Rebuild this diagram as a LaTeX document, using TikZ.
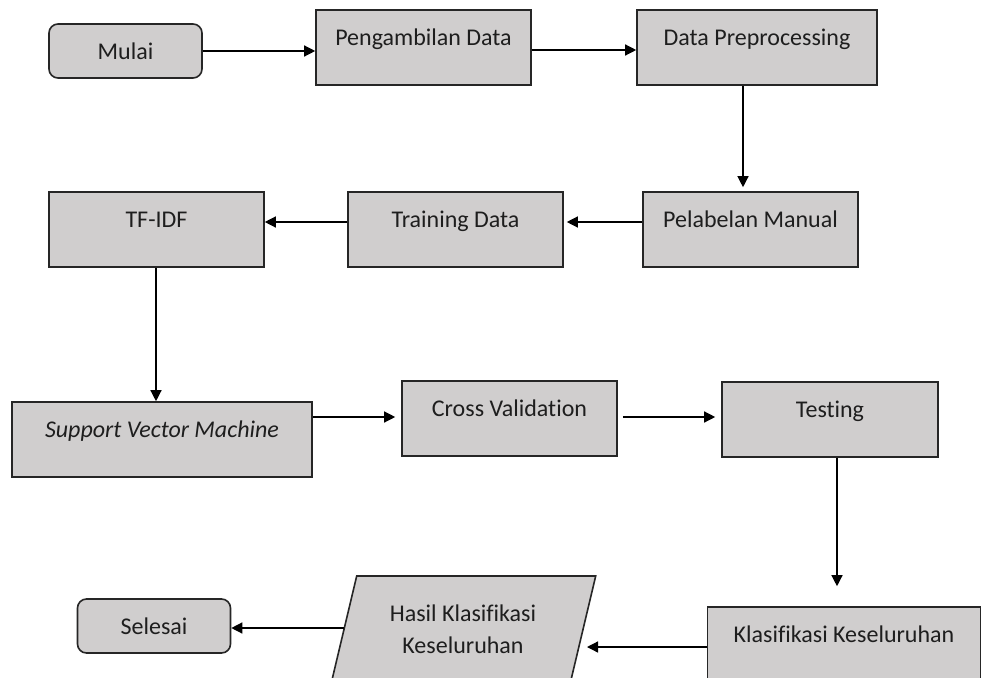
\documentclass[tikz,border=0pt]{standalone}
\usepackage{fontspec}
\setmainfont{Carlito}[Ligatures=NoCommon]
\usetikzlibrary{arrows.meta}
\definecolor{boxfill}{RGB}{208,206,206}
\definecolor{edgec}{RGB}{38,38,38}
\definecolor{textc}{RGB}{30,30,30}
\begin{document}
\begin{tikzpicture}[x=1pt,y=-1pt,
  lbl/.style={text=textc, font=\fontsize{24}{32}\selectfont},
  box/.style={lbl, draw=edgec, fill=boxfill, line width=1.6pt, rectangle,
    minimum height=75pt, inner ysep=0pt, text height=35.5pt, text depth=39.5pt},
  term/.style={lbl, draw=edgec, fill=boxfill, line width=1.6pt, rounded corners=9pt,
    minimum width=153pt, minimum height=54pt},
  arr/.style={-{Triangle[length=11pt,width=11pt]}, line width=1.3pt, draw=black}
]
\useasboundingbox (0,0) rectangle (982,677);
\clip (0,0) rectangle (982,677);
\fill[white] (0,0) rectangle (982,677);

% nodes
\node[term] (mulai) at (125.5,51) {Mulai};
\node[box, minimum width=215pt] (peng) at (423.5,47.5) {Pengambilan Data};
\node[box, minimum width=240pt] (prep) at (757,47.5) {Data Preprocessing};
\node[box, minimum width=215pt] (pel) at (750.5,229.5) {Pelabelan Manual};
\node[box, minimum width=215pt] (train) at (455.5,229.5) {Training Data};
\node[box, minimum width=215pt] (tfidf) at (156.5,229.5) {TF-IDF};
\node[box, minimum width=300pt] (svm) at (162,439.5) {\itshape Support Vector Machine};
\node[box, minimum width=215pt] (cv) at (509.5,418.5) {Cross Validation};
\node[box, minimum width=216pt] (test) at (830,419.5) {Testing};
\node[box, minimum width=273pt] (klas) at (844,644.5) {Klasifikasi Keseluruhan};
\node[term] (selesai) at (154,626) {Selesai};

% parallelogram (output)
\draw[draw=edgec, fill=boxfill, line width=1.6pt]
  (356.7,576) -- (595.7,576) -- (570.5,682) -- (331.5,682) -- cycle;
\node[lbl, align=center] (hasil) at (463,629) {Hasil Klasifikasi\\Keseluruhan};
\coordinate (hasilL) at (344.3,628);
\coordinate (hasilR) at (587,647);

% connectors
\draw[arr] (mulai.east) -- (mulai.east -| peng.west);
\draw[arr] (peng.east |- 0,50) -- (prep.west |- 0,50);
\draw[arr, shorten >=4pt] (prep.south -| 743,0) -- (pel.north -| 743,0);
\draw[arr, shorten >=3pt] (pel.west |- 0,222) -- (train.east |- 0,222);
\draw[arr] (train.west |- 0,222) -- (tfidf.east |- 0,222);
\draw[arr] (tfidf.south -| 156,0) -- (svm.north -| 156,0);
\draw[arr, shorten >=6pt] (svm.east |- 0,417) -- (cv.west |- 0,417);
\draw[arr, shorten <=5pt, shorten >=6pt] (cv.east |- 0,417) -- (test.west |- 0,417);
\draw[arr, shorten >=20pt] (test.south -| 837,0) -- (klas.north -| 837,0);
\draw[arr] (klas.west |- 0,647) -- (hasilR);
\draw[arr] (hasilL) -- (selesai.east |- 0,628);
\end{tikzpicture}
\end{document}
